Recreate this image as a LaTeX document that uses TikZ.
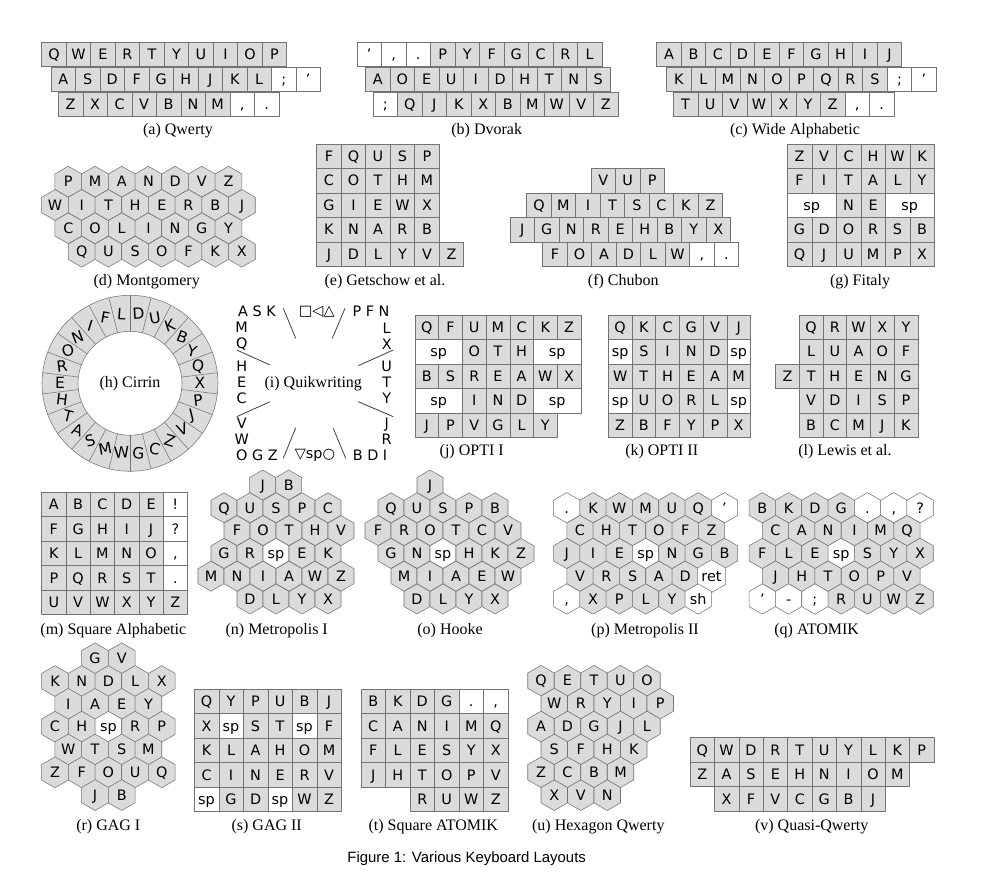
\documentclass[tikz,border=0pt]{standalone}
\usepackage{fontspec}
\setmainfont{Liberation Serif}
\setsansfont{Liberation Sans}
\newfontfamily\ksf{DejaVu Sans}
\usetikzlibrary{shapes.geometric}

\definecolor{kg}{gray}{0.86}
\definecolor{kw}{gray}{1}
\definecolor{kedge}{gray}{0.45}

% one pixel of the page, key width/height, hexagon width
\newcommand{\pu}{0.75pt}
\newcommand{\kw}{24.5}
\newcommand{\kh}{24.5}
\newcommand{\hw}{26.3}

\tikzset{
  key/.style={draw=kedge, fill=kg, line width=0.4pt, minimum width=\kw*\pu,
              minimum height=\kh*\pu, inner sep=0pt, text height=7.8pt, text depth=0pt,
              font=\ksf\fontsize{10.8}{12}\selectfont},
  widekey/.style={key, fill=kw, minimum width=2*\kw*\pu},
  hexkey/.style={key, regular polygon, regular polygon sides=6, shape border rotate=30,
                 minimum size=1.1547*\hw*\pu},
  ringkey/.style={inner sep=0pt, font=\ksf\fontsize{11.6}{14}\selectfont},
  qtext/.style={inner sep=0pt, align=center, font=\ksf\fontsize{10.8}{12}\selectfont},
  qline/.style={draw=black!75, line width=0.6pt},
  subcap/.style={inner sep=0pt, font=\fontsize{12}{14}\selectfont}
}

% rows of keys: [fill]{name}{left edge}{y}{letters}
\newcommand{\krow}[5][kg]{%
  \foreach \c [count=\i] in {#5}
    \node[key, fill=#1] (#2\i) at ({#3+(\i-0.5)*\kw}, #4) {\c};}
\newcommand{\mrow}[4]{%
  \foreach \c/\f [count=\i] in {#4}
    \node[key, fill=\f] (#1\i) at ({#2+(\i-0.5)*\kw}, #3) {\c};}
% rows of hexagons: [fill]{name}{first centre}{y}{letters}
\newcommand{\hrow}[5][kg]{%
  \foreach \c [count=\i] in {#5}
    \node[hexkey, fill=#1] (#2\i) at ({#3+(\i-1)*\hw}, #4) {\c};}
\newcommand{\mhrow}[4]{%
  \foreach \c/\f [count=\i] in {#4}
    \node[hexkey, fill=\f] (#1\i) at ({#2+(\i-1)*\hw}, #3) {\c};}

\begin{document}
\begin{tikzpicture}[x=0.75pt, y=-0.75pt]
\path[fill=white, use as bounding box] (0,0) rectangle (986,888);

% (a) Qwerty
\krow{qwa}{41.7}{54.5}{Q,W,E,R,T,Y,U,I,O,P}
\krow{qwb}{51}{79.5}{A,S,D,F,G,H,J,K,L}
\krow[kw]{qwbp}{271.5}{79.5}{;,’}
\krow{qwc}{58.3}{104.5}{Z,X,C,V,B,N,M}
\krow[kw]{qwcp}{229.8}{104.5}{{,},{.}}
\node[subcap] (capa) at (178,131) {(a) Qwerty};

% (b) Dvorak
\krow[kw]{dva}{357}{54.5}{’,{,},{.}}
\krow{dvb}{430.5}{54.5}{P,Y,F,G,C,R,L}
\krow{dvc}{365.5}{79.5}{A,O,E,U,I,D,H,T,N,S}
\krow[kw]{dvd}{373}{104.5}{;}
\krow{dve}{397.5}{104.5}{Q,J,K,X,B,M,W,V,Z}
\node[subcap] (capb) at (486.7,131) {(b) Dvorak};

% (c) Wide Alphabetic
\krow{waa}{656.7}{54.5}{A,B,C,D,E,F,G,H,I,J}
\krow{wab}{666.7}{79.5}{K,L,M,N,O,P,Q,R,S}
\krow[kw]{wabp}{887.2}{79.5}{;,’}
\krow{wac}{673.3}{104.5}{T,U,V,W,X,Y,Z}
\krow[kw]{wacp}{844.8}{104.5}{{,},{.}}
\node[subcap] (capc) at (795,131) {(c) Wide Alphabetic};

% (d) Montgomery
\renewcommand{\hw}{26.7}
\hrow{mga}{68.3}{181.7}{P,M,A,N,D,V,Z}
\hrow{mgb}{55}{205}{W,I,T,H,E,R,B,J}
\hrow{mgc}{68.3}{228.3}{C,O,L,I,N,G,Y}
\hrow{mgd}{81.7}{251.7}{Q,U,S,O,F,K,X}
\node[subcap] (capd) at (146.7,281.7) {(d) Montgomery};

% (e) Getschow et al.
\krow{gsa}{316.7}{156.25}{F,Q,U,S,P}
\krow{gsb}{316.7}{180.75}{C,O,T,H,M}
\krow{gsc}{316.7}{205.25}{G,I,E,W,X}
\krow{gsd}{316.7}{229.75}{K,N,A,R,B}
\krow{gse}{316.7}{254.25}{J,D,L,Y,V,Z}
\node[subcap] (cape) at (385,281.7) {(e) Getschow et al.};

% (f) Chubon
\krow{cba}{591}{180.75}{V,U,P}
\krow{cbb}{526.7}{205.25}{Q,M,I,T,S,C,K,Z}
\krow{cbc}{510}{229.75}{J,G,N,R,E,H,B,Y,X}
\krow{cbd}{542.7}{254.25}{F,O,A,D,L,W}
\krow[kw]{cbdp}{689.7}{254.25}{{,},{.}}
\node[subcap] (capf) at (623.3,281.7) {(f) Chubon};

% (g) Fitaly
\krow{fta}{787.3}{156.25}{Z,V,C,H,W,K}
\krow{ftb}{787.3}{180.75}{F,I,T,A,L,Y}
\node[widekey] (ftsp1) at (811.8,205.25) {sp};
\krow{ftc}{836.3}{205.25}{N,E}
\node[widekey] (ftsp2) at (909.8,205.25) {sp};
\krow{ftd}{787.3}{229.75}{G,D,O,R,S,B}
\krow{fte}{787.3}{254.25}{Q,J,U,M,P,X}
\node[subcap] (capg) at (860,281.7) {(g) Fitaly};

% (h) Cirrin
\coordinate (cir) at (130,383.3);
\fill[kg, even odd rule] (cir) circle (66pt) (cir) circle (39pt);
\draw[kedge, line width=0.4pt] (cir) circle (66pt) (cir) circle (39pt);
\foreach \a in {0,...,25}
  \draw[kedge, line width=0.4pt] ([shift={({90-\a*360/26}:39pt)}]cir) -- ([shift={({90-\a*360/26}:66pt)}]cir);
\foreach \c [count=\i from 0] in {D,U,K,B,Y,Q,X,P,J,V,Z,C,G,W,M,S,A,T,H,E,R,O,N,I,F,L}
  \node[ringkey, rotate={0.5*(mod((\i+0.5)*360/26+45,90)-45)}] (cr\i)
    at ([shift={({90-(\i+0.5)*360/26}:52.5pt)}]cir) {\c};
\node[subcap] (caph) at (cir) {(h) Cirrin};

% (i) Quikwriting
\node[qtext] (qask) at (257,311.7) {A S K};
\node[qtext] (qmq)  at (241.7,336.3) {M\\Q};
\node[qtext] (qhec) at (241.7,382.3) {H\\E\\C};
\node[qtext] (qvw)  at (241.7,430.8) {V\\W};
\node[qtext] (qogz) at (257,455) {O G Z};
\node[qtext] (qtop) at (316.7,311.7) {□◁△};
\node[qtext] (qbot) at (315,455) {▽sp○};
\node[qtext] (qpfn) at (371,311.7) {P F N};
\node[qtext] (qlx)  at (386.7,336.3) {L\\X};
\node[qtext] (quty) at (386.7,382.3) {U\\T\\Y};
\node[qtext] (qjr)  at (386.7,430.8) {J\\R};
\node[qtext] (qbdi) at (370,455) {B D I};
\draw[qline] (283.3,308.3) -- (295.7,338.3);
\draw[qline] (345,308.3) -- (332.3,338.3);
\draw[qline] (236.7,350) -- (270,365);
\draw[qline] (236.7,416.7) -- (270,401.7);
\draw[qline] (283.3,458.3) -- (295.7,427.7);
\draw[qline] (333.3,428.3) -- (345.7,458.3);
\draw[qline] (358.3,365.7) -- (393.3,350);
\draw[qline] (358.3,401.7) -- (393.3,416.7);
\node[subcap] (capi) at (313.3,383.3) {(i) Quikwriting};

% (j) OPTI I
\renewcommand{\kw}{23.7}
\krow{opa}{415}{327.25}{Q,F,U,M,C,K,Z}
\node[widekey] (opsp1) at (438.7,351.75) {sp};
\krow{opb}{462.4}{351.75}{O,T,H}
\node[widekey] (opsp2) at (557.2,351.75) {sp};
\krow{opc}{415}{376.25}{B,S,R,E,A,W,X}
\node[widekey] (opsp3) at (438.7,400.75) {sp};
\krow{opd}{462.4}{400.75}{I,N,D}
\node[widekey] (opsp4) at (557.2,400.75) {sp};
\krow{ope}{415}{425.25}{J,P,V,G,L,Y}
\node[subcap] (capj) at (471.7,451.7) {(j) OPTI I};

% (k) OPTI II
\krow{oqa}{608.3}{327.25}{Q,K,C,G,V,J}
\mrow{oqb}{608.3}{351.75}{sp/kw,S/kg,I/kg,N/kg,D/kg,sp/kw}
\krow{oqc}{608.3}{376.25}{W,T,H,E,A,M}
\mrow{oqd}{608.3}{400.75}{sp/kw,U/kg,O/kg,R/kg,L/kg,sp/kw}
\krow{oqe}{608.3}{425.25}{Z,B,F,Y,P,X}
\node[subcap] (capk) at (661.7,451.7) {(k) OPTI II};

% (l) Lewis et al.
\krow{lwa}{799.3}{327.25}{Q,R,W,X,Y}
\krow{lwb}{799.3}{351.75}{L,U,A,O,F}
\krow{lwc}{775.6}{376.25}{Z,T,H,E,N,G}
\krow{lwd}{799.3}{400.75}{V,D,I,S,P}
\krow{lwe}{799.3}{425.25}{B,C,M,J,K}
\node[subcap] (capl) at (845,451.7) {(l) Lewis et al.};

% (m) Square Alphabetic
\renewcommand{\kw}{24.3}
\krow{saa}{41.7}{504.5}{A,B,C,D,E}
\krow[kw]{saap}{163.2}{504.5}{!}
\krow{sab}{41.7}{529}{F,G,H,I,J}
\krow[kw]{sabp}{163.2}{529}{?}
\krow{sac}{41.7}{553.5}{K,L,M,N,O}
\krow[kw]{sacp}{163.2}{553.5}{{,}}
\krow{sad}{41.7}{578}{P,Q,R,S,T}
\krow[kw]{sadp}{163.2}{578}{{.}}
\krow{sae}{41.7}{602.5}{U,V,W,X,Y,Z}
\node[subcap] (capm) at (113.3,630.7) {(m) Square Alphabetic};

% (n) Metropolis I
\renewcommand{\hw}{26}
\hrow{mpa}{262.7}{485}{J,B}
\hrow{mpb}{224}{507.8}{Q,U,S,P,C}
\hrow{mpc}{237}{530.6}{F,O,T,H,V}
\mhrow{mpd}{224}{553.4}{G/kg,R/kg,sp/kw,E/kg,K/kg}
\hrow{mpe}{211}{576.2}{M,N,I,A,W,Z}
\hrow{mpf}{250}{599}{D,L,Y,X}
\node[subcap] (capn) at (276.7,630.7) {(n) Metropolis I};

% (o) Hooke
\hrow{hka}{430}{485}{J}
\hrow{hkb}{391}{507.8}{Q,U,S,P,B}
\hrow{hkc}{378}{530.6}{F,R,O,T,C,V}
\mhrow{hkd}{391}{553.4}{G/kg,N/kg,sp/kw,H/kg,K/kg,Z/kg}
\hrow{hke}{404}{576.2}{M,I,A,E,W}
\hrow{hkf}{417}{599}{D,L,Y,X}
\node[subcap] (capo) at (450,630.7) {(o) Hooke};

% (p) Metropolis II
\renewcommand{\hw}{26.3}
\mhrow{mqa}{566.7}{507.8}{{.}/kw,K/kg,W/kg,M/kg,U/kg,Q/kg,’/kw}
\hrow{mqb}{580}{530.6}{C,H,T,O,F,Z}
\mhrow{mqc}{566.7}{553.4}{J/kg,I/kg,E/kg,sp/kw,N/kg,G/kg,B/kg}
\mhrow{mqd}{580}{576.2}{V/kg,R/kg,S/kg,A/kg,D/kg,ret/kw}
\mhrow{mqe}{566.7}{599}{{,}/kw,X/kg,P/kg,L/kg,Y/kg,sh/kw}
\node[subcap] (capp) at (645,630.7) {(p) Metropolis II};

% (q) ATOMIK
\mhrow{ata}{762.3}{507.8}{B/kg,K/kg,D/kg,G/kg,{.}/kw,{,}/kw,?/kw}
\hrow{atb}{775.5}{530.6}{C,A,N,I,M,Q}
\mhrow{atc}{762.3}{553.4}{F/kg,L/kg,E/kg,sp/kw,S/kg,Y/kg,X/kg}
\hrow{atd}{775.5}{576.2}{J,H,T,O,P,V}
\mhrow{ate}{762.3}{599}{’/kw,-/kw,;/kw,R/kg,U/kg,W/kg,Z/kg}
\node[subcap] (capq) at (816.7,630.7) {(q) ATOMIK};

% (r) GAG I
\renewcommand{\hw}{26.7}
\hrow{gga}{95}{658.3}{G,V}
\hrow{ggb}{55}{681.1}{K,N,D,L,X}
\hrow{ggc}{68.3}{703.9}{I,A,E,Y}
\mhrow{ggd}{55}{726.7}{C/kg,H/kg,sp/kw,R/kg,P/kg}
\hrow{gge}{68.3}{749.5}{W,T,S,M}
\hrow{ggf}{55}{772.3}{Z,F,O,U,Q}
\hrow{ggg}{95}{795.1}{J,B}
\node[subcap] (capr) at (108.3,826.7) {(r) GAG I};

% (s) GAG II
\renewcommand{\kw}{24.5}
\krow{gha}{194.3}{701.5}{Q,Y,P,U,B,J}
\mrow{ghb}{194.3}{726}{X/kg,sp/kw,S/kg,T/kg,sp/kw,F/kg}
\krow{ghc}{194.3}{750.5}{K,L,A,H,O,M}
\krow{ghd}{194.3}{775}{C,I,N,E,R,V}
\mrow{ghe}{194.3}{799.5}{sp/kw,G/kg,D/kg,sp/kw,W/kg,Z/kg}
\node[subcap] (caps) at (266.7,826.7) {(s) GAG II};

% (t) Square ATOMIK
\mrow{sta}{361}{701.5}{B/kg,K/kg,D/kg,G/kg,{.}/kw,{,}/kw}
\krow{stb}{361}{726}{C,A,N,I,M,Q}
\krow{stc}{361}{750.5}{F,L,E,S,Y,X}
\krow{std}{361}{775}{J,H,T,O,P,V}
\krow{ste}{410}{799.5}{R,U,W,Z}
\node[subcap] (capt) at (433.3,826.7) {(t) Square ATOMIK};

% (u) Hexagon Qwerty
\renewcommand{\hw}{26.5}
\hrow{hqa}{541}{680.7}{Q,E,T,U,O}
\hrow{hqb}{554.25}{703.6}{W,R,Y,I,P}
\hrow{hqc}{541}{726.5}{A,D,G,J,L}
\hrow{hqd}{554.25}{749.4}{S,F,H,K}
\hrow{hqe}{541}{772.3}{Z,C,B,M}
\hrow{hqf}{554.25}{795.2}{X,V,N}
\node[subcap] (capu) at (598.3,826.7) {(u) Hexagon Qwerty};

% (v) Quasi-Qwerty
\renewcommand{\kw}{24.4}
\krow{qqa}{690}{750}{Q,W,D,R,T,U,Y,L,K,P}
\krow{qqb}{690}{774.4}{Z,A,S,E,H,N,I,O,M}
\krow{qqc}{714.4}{798.9}{X,F,V,C,G,B,J}
\node[subcap] (capv) at (811.7,826.7) {(v) Quasi-Qwerty};

\node[inner sep=0pt, font=\sffamily\fontsize{11.2}{13}\selectfont] (fig) at (466.7,858.3) {Figure 1: Various Keyboard Layouts};
\end{tikzpicture}
\end{document}
